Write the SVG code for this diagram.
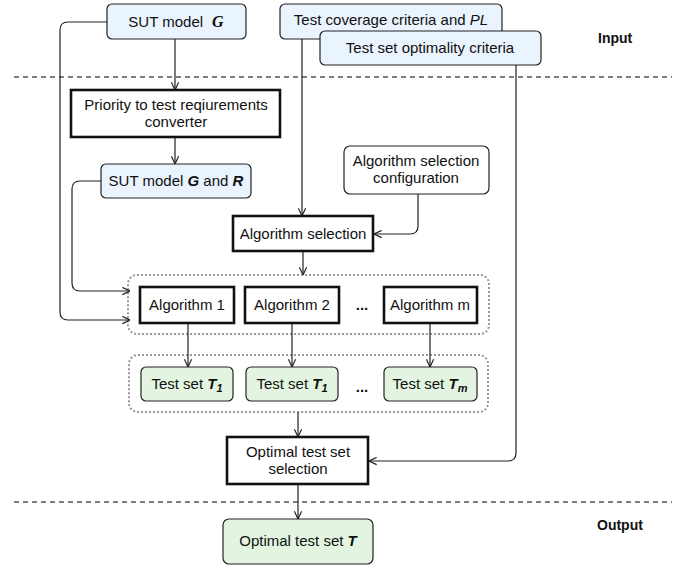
<svg xmlns="http://www.w3.org/2000/svg" width="690" height="567" viewBox="0 0 690 567">
  <defs>
    <marker id="arrow" viewBox="0 0 10 10" refX="9.5" refY="5" markerWidth="9" markerHeight="9" markerUnits="userSpaceOnUse" orient="auto">
      <path d="M1,1 L9.5,5 L1,9" fill="none" stroke="#222" stroke-width="1.3"/>
    </marker>
  </defs>
  <style>
    text { font-family: "Liberation Sans", Arial, sans-serif; font-size: 15px; fill: #111; text-anchor: middle; }
    .input { fill: #eaf4fe; stroke: #222; stroke-width: 1.2; }
    .result { fill: #e3f5e1; stroke: #222; stroke-width: 1.2; }
    .config { fill: #fff; stroke: #222; stroke-width: 1.2; }
    .proc { fill: #fff; stroke: #111; stroke-width: 2.6; }
    .group { fill: none; stroke: #999; stroke-width: 2; stroke-dasharray: 2 2; }
    .sep { stroke: #555; stroke-width: 1.3; stroke-dasharray: 5 4; }
    .edge { fill: none; stroke: #222; stroke-width: 1.2; marker-end: url(#arrow); }
    .bi { font-weight: bold; font-style: italic; }
    .serif { font-family: "Liberation Serif", "Times New Roman", serif; }
    .label { font-weight: bold; text-anchor: start; font-size: 14px; }
  </style>

  <!-- phase separators -->
  <line class="sep" x1="14" y1="77" x2="672" y2="77"/>
  <line class="sep" x1="14" y1="502" x2="672" y2="502"/>
  <text class="label" x="598" y="43">Input</text>
  <text class="label" x="597" y="530">Output</text>

  <!-- groupings -->
  <rect id="algorithms-group" class="group" x="128" y="275" width="361" height="59" rx="9"/>
  <rect id="testsets-group" class="group" x="129" y="355" width="359" height="57" rx="9"/>

  <g id="connectors">
    <path class="edge" d="M175,39 V90"/>
    <path class="edge" d="M175,137 V164"/>
    <path class="edge" d="M107,22 H68 Q60,22 60,30 V312 Q60,320 68,320 H130"/>
    <path class="edge" d="M101,181 H80 Q72,181 72,189 V283 Q72,291 80,291 H130"/>
    <path class="edge" d="M302,38 V216"/>
    <path class="edge" d="M418,194 V226 Q418,234 410,234 H374"/>
    <path class="edge" d="M303,251 V275"/>
    <path class="edge" d="M188,323 V367"/>
    <path class="edge" d="M292,323 V367"/>
    <path class="edge" d="M430,323 V367"/>
    <path class="edge" d="M298,412 V437"/>
    <path class="edge" d="M516,65 V453 Q516,461 508,461 H369"/>
    <path class="edge" d="M298,484 V519"/>
  </g>

  <g id="sut-model">
    <rect class="input" x="107" y="4" width="139" height="35" rx="5"/>
    <text x="176" y="27">SUT model<tspan class="bi serif" font-size="16" dx="9">G</tspan></text>
  </g>

  <g id="coverage-criteria">
    <rect class="input" x="280" y="4" width="222" height="35" rx="5"/>
    <text x="391" y="25">Test coverage criteria and <tspan font-style="italic">PL</tspan></text>
  </g>

  <g id="optimality-criteria">
    <rect class="input" x="320" y="31" width="221" height="34" rx="5"/>
    <text x="430" y="53">Test set optimality criteria</text>
  </g>

  <g id="priority-converter">
    <rect class="proc" x="71" y="90" width="209" height="47"/>
    <text x="176" y="110">Priority to test reqiurements</text>
    <text x="176" y="127">converter</text>
  </g>

  <g id="sut-model-r">
    <rect class="input" x="101" y="164" width="150" height="34" rx="5"/>
    <text x="176" y="186">SUT model <tspan class="bi">G</tspan> and <tspan class="bi">R</tspan></text>
  </g>

  <g id="selection-config">
    <rect class="config" x="344" y="146" width="145" height="48" rx="6"/>
    <text x="416" y="166">Algorithm selection</text>
    <text x="416" y="183">configuration</text>
  </g>

  <g id="algorithm-selection">
    <rect class="proc" x="233" y="216" width="140" height="35"/>
    <text x="303" y="239">Algorithm selection</text>
  </g>

  <g id="algorithm-1">
    <rect class="proc" x="140" y="287" width="94" height="36"/>
    <text x="187" y="310">Algorithm 1</text>
  </g>
  <g id="algorithm-2">
    <rect class="proc" x="245" y="287" width="94" height="36"/>
    <text x="292" y="310">Algorithm 2</text>
  </g>
  <text x="362" y="310" font-weight="bold" font-size="14">...</text>
  <g id="algorithm-m">
    <rect class="proc" x="384" y="287" width="93" height="36"/>
    <text x="430" y="310">Algorithm m</text>
  </g>

  <g id="test-set-1">
    <rect class="result" x="141" y="367" width="92" height="34" rx="5"/>
    <text x="187" y="389">Test set <tspan class="bi">T</tspan><tspan class="bi" font-size="11" dy="3">1</tspan></text>
  </g>
  <g id="test-set-2">
    <rect class="result" x="246" y="367" width="92" height="34" rx="5"/>
    <text x="292" y="389">Test set <tspan class="bi">T</tspan><tspan class="bi" font-size="11" dy="3">1</tspan></text>
  </g>
  <text x="362" y="392" font-weight="bold" font-size="14">...</text>
  <g id="test-set-m">
    <rect class="result" x="384" y="367" width="93" height="34" rx="5"/>
    <text x="430" y="389">Test set <tspan class="bi">T</tspan><tspan class="bi" font-size="11" dy="3">m</tspan></text>
  </g>

  <g id="optimal-selection">
    <rect class="proc" x="227" y="437" width="141" height="47"/>
    <text x="298" y="457">Optimal test set</text>
    <text x="298" y="474">selection</text>
  </g>

  <g id="optimal-test-set">
    <rect class="result" x="223" y="519" width="150" height="45" rx="6"/>
    <text x="298" y="546">Optimal test set <tspan class="bi">T</tspan></text>
  </g>
</svg>
